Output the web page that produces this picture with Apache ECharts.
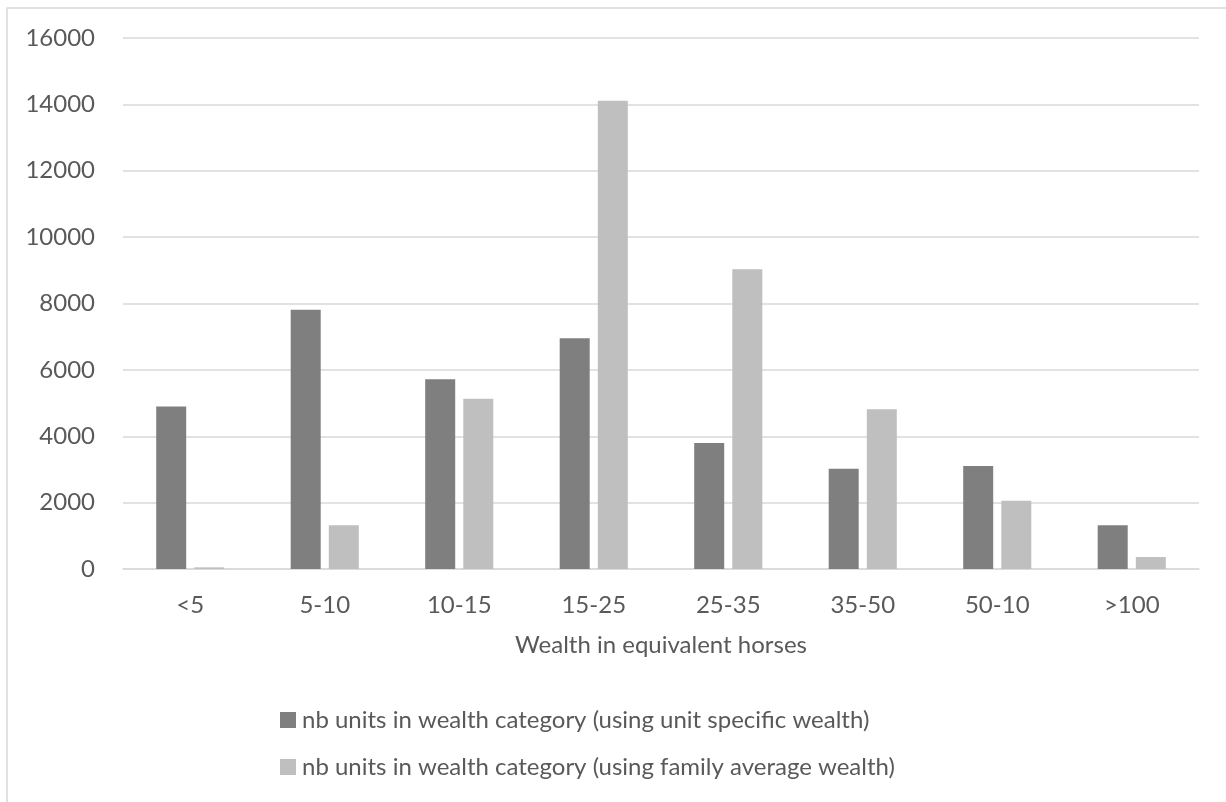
<!DOCTYPE html>
<html>
<head>
<meta charset="utf-8">
<script src="https://cdn.jsdelivr.net/npm/echarts@6/dist/echarts.min.js"></script>
<style>
  html, body { margin: 0; padding: 0; background: #ffffff; }
  #chart { width: 1226px; height: 802px; }
</style>
</head>
<body>
<div id="chart"></div>
<script>
// Wealth brackets (in equivalent horses)
const categories = ['<5', '5-10', '10-15', '15-25', '25-35', '35-50', '50-10', '>100'];

// Number of units per wealth bracket
const unitSpecific = [4900, 7810, 5720, 6950, 3800, 3020, 3100, 1320];
const familyAverage = [50, 1320, 5130, 14110, 9030, 4810, 2060, 360];

const seriesNames = [
  'nb units in wealth category (using unit specific wealth)',
  'nb units in wealth category (using family average wealth)'
];

const axisTitle = 'Wealth in equivalent horses';

const textColor = '#595959';
const gridColor = '#d9d9d9';
const fontFamily = 'Lato, "Open Sans", sans-serif';

const chart = echarts.init(document.getElementById('chart'));

chart.setOption({
  animation: false,
  backgroundColor: '#ffffff',
  textStyle: { fontFamily: fontFamily, color: textColor },
  graphic: [{
    type: 'rect',
    shape: { x: 7, y: 8, width: 1400, height: 1000 },
    style: { fill: 'none', stroke: gridColor, lineWidth: 1.5 },
    silent: true,
    z: -1
  }],
  grid: { left: 123, right: 27, top: 38, bottom: 233, containLabel: false },
  legend: {
    orient: 'vertical',
    left: 280,
    top: 708,
    padding: 0,
    itemWidth: 16,
    itemHeight: 16,
    itemGap: 23,
    icon: 'rect',
    textStyle: { fontFamily: fontFamily, fontSize: 24, color: textColor, padding: [0, 0, 0, 1] },
    data: seriesNames
  },
  xAxis: {
    type: 'category',
    data: categories,
    name: axisTitle,
    nameLocation: 'middle',
    nameGap: 64,
    nameTextStyle: { fontFamily: fontFamily, fontSize: 24, color: textColor },
    axisLine: { show: true, lineStyle: { color: gridColor, width: 1.5 } },
    axisTick: { show: false },
    axisLabel: { fontFamily: fontFamily, fontSize: 24, color: textColor, margin: 24 }
  },
  yAxis: {
    type: 'value',
    min: 0,
    max: 16000,
    interval: 2000,
    axisLine: { show: false },
    axisTick: { show: false },
    axisLabel: {
      fontFamily: fontFamily,
      fontSize: 24,
      color: textColor,
      margin: 28,
      formatter: function (v) { return String(v); }
    },
    splitLine: { lineStyle: { color: gridColor, width: 1.5 } }
  },
  series: [
    {
      name: seriesNames[0],
      type: 'bar',
      data: unitSpecific,
      barWidth: 30,
      barGap: '27%',
      itemStyle: { color: '#7f7f7f' }
    },
    {
      name: seriesNames[1],
      type: 'bar',
      data: familyAverage,
      barWidth: 30,
      barGap: '27%',
      itemStyle: { color: '#bfbfbf' }
    }
  ]
});
</script>
</body>
</html>
